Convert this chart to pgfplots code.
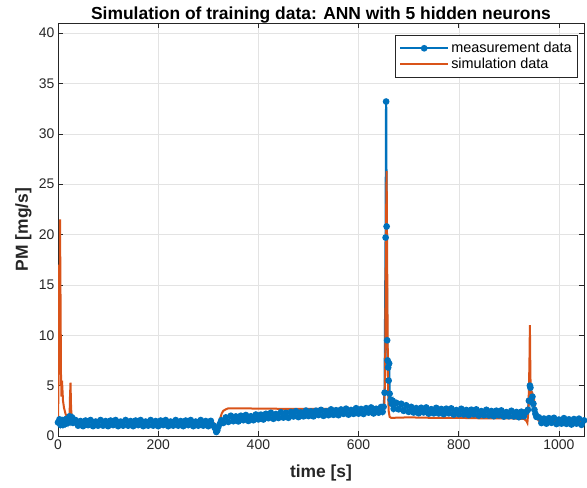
\documentclass[border=0pt]{standalone}
\usepackage{fontspec}
\setmainfont{Liberation Sans}
\usepackage{pgfplots}
\pgfplotsset{compat=1.18}
\definecolor{mlblue}{rgb}{0,0.447,0.741}
\definecolor{mlorange}{rgb}{0.85,0.325,0.098}
\definecolor{axgray}{rgb}{0.15,0.15,0.15}

\pgfplotstableread{
t pm
0 1.35
3 1.65
5 1.10
8 1.55
10 1.10
13 1.60
15 1.20
18 1.70
20 1.30
23 1.95
25 1.40
28 1.85
30 1.30
35 1.58
40 1.03
45 1.48
50 0.98
55 1.53
60 1.08
65 1.58
70 0.98
75 1.43
80 1.03
85 1.58
90 1.03
95 1.48
100 0.98
105 1.53
110 1.08
115 1.58
120 0.98
125 1.43
130 1.03
135 1.58
140 1.03
145 1.48
150 0.98
155 1.53
160 1.08
165 1.58
170 0.98
175 1.43
180 1.03
185 1.58
190 1.03
195 1.48
200 0.98
205 1.53
210 1.08
215 1.58
220 0.98
225 1.43
230 1.03
235 1.58
240 1.03
245 1.48
250 0.98
255 1.53
260 1.08
265 1.58
270 0.98
275 1.43
280 1.03
285 1.58
290 1.03
295 1.48
300 0.98
305 1.50
310 1.05
313 0.80
316 0.40
318 0.55
320 0.90
323 1.20
326 1.55
330 1.30
335 1.85
340 1.40
345 2.01
350 1.47
355 1.94
360 1.45
365 2.01
370 1.57
375 2.08
380 1.50
385 1.96
390 1.57
395 2.13
400 1.65
405 2.12
410 1.64
415 2.20
420 1.77
425 2.30
430 1.71
435 2.18
440 1.79
445 2.36
450 1.83
455 2.30
460 1.81
465 2.38
470 1.94
475 2.46
480 1.88
485 2.34
490 1.95
495 2.52
500 1.98
505 2.44
510 1.95
515 2.51
520 2.08
525 2.59
530 2.00
535 2.46
540 2.07
545 2.64
550 2.10
555 2.56
560 2.07
565 2.63
570 2.20
575 2.71
580 2.12
585 2.58
590 2.20
595 2.76
600 2.22
605 2.68
610 2.19
615 2.76
620 2.32
625 2.83
630 2.24
635 2.70
640 2.32
645 2.88
648 2.40
650 2.90
652 4.30
654 19.70
655 33.20
656 20.80
657 9.50
658 7.50
659 6.80
660 5.50
661 7.20
662 4.20
664 3.60
666 3.20
668 3.50
670 2.70
675 3.30
680 2.65
685 3.20
690 2.50
695 3.05
700 2.40
705 2.89
710 2.33
715 2.77
720 2.26
725 2.80
730 2.34
735 2.83
740 2.22
745 2.66
750 2.25
755 2.79
760 2.24
765 2.68
770 2.17
775 2.71
780 2.25
785 2.74
790 2.13
795 2.57
800 2.16
805 2.70
810 2.14
815 2.58
820 2.07
825 2.61
830 2.15
835 2.64
840 2.03
845 2.47
850 2.06
855 2.60
860 2.04
865 2.48
870 1.97
875 2.51
880 2.05
885 2.54
890 1.93
895 2.37
900 1.96
905 2.50
910 1.94
915 2.38
920 1.87
925 2.41
930 1.95
935 2.40
938 2.60
940 3.50
942 5.00
943 4.80
945 3.40
947 3.90
949 3.20
951 2.60
953 2.20
955 1.90
960 1.85
965 1.29
970 1.73
975 1.23
980 1.77
985 1.31
990 1.80
995 1.19
1000 1.63
1005 1.23
1010 1.77
1015 1.21
1020 1.65
1025 1.14
1030 1.68
1035 1.23
1040 1.72
1045 1.11
1050 1.55
}\meas

\pgfplotstableread{
t pm
0 1.40
1 5.0
2 17.0
3 12.0
4 21.5
5 14.0
6 6.0
7 3.9
8 5.5
10 3.5
12 2.8
15 2.2
18 1.9
21 1.7
23 1.8
24 4.0
25 5.3
26 3.0
27 2.0
30 1.7
35 1.65
40 1.60
60 1.55
80 1.60
100 1.55
120 1.55
140 1.60
160 1.55
180 1.55
200 1.55
220 1.60
240 1.55
260 1.55
280 1.55
300 1.55
308 1.50
312 1.20
316 0.85
318 0.80
321 1.20
324 1.80
327 2.25
330 2.50
335 2.65
340 2.75
360 2.75
400 2.72
450 2.70
500 2.70
550 2.70
600 2.70
640 2.70
648 2.65
651 2.80
653 6.0
654 15.0
655 22.0
656 26.3
657 18.0
658 10.0
659 4.5
660 2.5
662 1.9
665 1.8
700 1.85
750 1.80
800 1.80
850 1.75
900 1.75
930 1.70
935 1.50
937 1.30
939 2.5
941 7.0
942 11.0
943 6.0
944 4.0
946 3.5
948 4.1
950 3.8
952 2.5
955 1.8
960 1.5
1000 1.45
1050 1.40
}\simu

\begin{document}
\begin{tikzpicture}
\begin{axis}[
    scale only axis,
    width=526bp, height=413bp,
    xmin=0, xmax=1050,
    ymin=0, ymax=41,
    xtick={0,200,...,1000},
    ytick={0,5,...,40},
    tick align=inside,
    major tick length=5bp,
    grid=major,
    grid style={line width=0.5bp, gray!22},
    axis line style={axgray, line width=0.6bp},
    tick style={axgray, line width=0.6bp},
    ticklabel style={font=\fontsize{14}{16}\selectfont, text=axgray},
    /pgf/number format/assume math mode=true,
    /pgf/number format/1000 sep={},
    title={\bfseries Simulation of training data: ANN with 5 hidden neurons},
    title style={font=\fontsize{17.5}{20}\selectfont, at={(0.5,1)}, anchor=base, yshift=-2bp},
    xlabel={\bfseries time [s]},
    ylabel={\bfseries PM [mg/s]},
    label style={font=\fontsize{17.5}{19}\selectfont, text=axgray},
    xlabel style={at={(0.5,0)}, anchor=base, yshift=-41bp},
    ylabel style={at={(0,0.5)}, anchor=base, yshift=30bp},
    legend style={at={(1,1)}, anchor=north east, xshift=-6bp, yshift=-12bp,
        font=\fontsize{14.5}{16}\selectfont, draw=axgray, line width=0.6bp,
        inner xsep=4bp, inner ysep=5bp, row sep=0bp},
    legend cell align=left,
    legend image code/.code={\draw[mark repeat=2,mark phase=2,#1]
        plot coordinates {(0bp,0bp)(24bp,0bp)(48bp,0bp)};},
]
\addplot[mlblue, line width=2.2bp, mark=*, mark size=2.2bp] table[x=t,y=pm] {\meas};
\addlegendentry{measurement data}
\addplot[mlorange, line width=2bp] table[x=t,y=pm] {\simu};
\addlegendentry{simulation data}
\coordinate (bl) at (rel axis cs:0,0);
\coordinate (tr) at (rel axis cs:1,1);
\end{axis}
\pgfresetboundingbox
\path ([shift={(-58bp,-52bp)}]bl) rectangle ([shift={(3bp,23bp)}]tr);
\end{tikzpicture}
\end{document}
